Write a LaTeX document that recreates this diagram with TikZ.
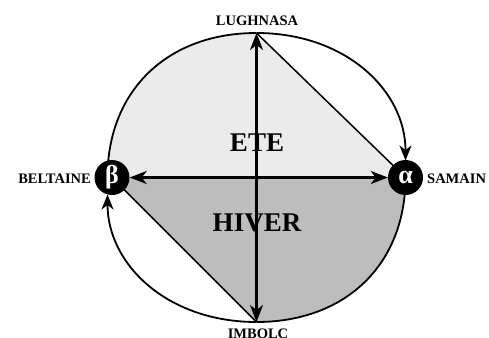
\documentclass[tikz,border=0pt]{standalone}
\usepackage{fontspec}
\setmainfont{Liberation Serif}
\usetikzlibrary{arrows.meta,calc}
\definecolor{etegray}{HTML}{EBEBEB}
\definecolor{hivergray}{HTML}{BDBDBD}
\tikzset{
  season/.style={font=\bfseries\fontsize{27}{27}\selectfont},
  feast/.style={font=\bfseries\fontsize{14.5}{15}\selectfont,inner sep=0pt},
  sabbat/.style={circle,fill=black,minimum size=35pt,inner sep=0pt,text=white,
    font=\bfseries\fontsize{26}{26}\selectfont},
  rim/.style={line width=1.8pt},
  chord/.style={line width=1.5pt},
  axis/.style={line width=2.4pt,{Stealth[length=17pt,width=13pt,inset=5pt]}-{Stealth[length=17pt,width=13pt,inset=5pt]}},
  turn/.style={line width=1.8pt,-{Stealth[length=15pt,width=12pt,inset=4.5pt]},shorten >=17pt}
}

\begin{document}
\begin{tikzpicture}[x=1pt,y=-1pt,line join=round]
  \useasboundingbox (0,0) rectangle (489,337);
  % the four feasts on the rim
  \coordinate (lugh) at (256.5,33);
  \coordinate (imb) at (256.5,322);
  \coordinate (west) at (107.5,177.5);
  \coordinate (b) at (112,177.5);
  \coordinate (a) at (405.5,177.5);

  % summer and winter halves
  \fill[etegray] (west) .. controls (107.5,90.8) and (167.1,33) .. (lugh) -- (a) -- cycle;
  \fill[hivergray] (b) -- (imb) .. controls (345.9,322) and (405.5,264.2) .. (a) -- cycle;

  \draw[rim] (lugh) .. controls (167.1,33) and (107.5,90.8) .. (west);
  \draw[rim] (a) .. controls (405.5,264.2) and (345.9,322) .. (imb);
  \draw[chord] (lugh) -- (a);
  \draw[chord] (b) -- (imb);

  \node[sabbat] (beta) at (b) {β};
  \node[sabbat] (alpha) at (a) {α};

  \draw[turn] (lugh) .. controls (345.9,33) and (405.5,90.8) .. (a);
  \draw[turn] (imb) .. controls (167.1,322) and (107.5,264.2) .. (west);

  \draw[axis] (beta) -- (alpha);
  \draw[axis] (imb) -- (lugh);

  \node[season] (ete) at (257,142.5) {ETE};
  \node[season] (hiver) at (257,222.5) {HIVER};

  \node[feast] (lughlabel) at (257,21) {LUGHNASA};
  \node[feast] (imblabel) at (258,333.5) {IMBOLC};
  \node[feast,anchor=east] (beltlabel) at (91,178.5) {BELTAINE};
  \node[feast,anchor=west] (samlabel) at (427,178.5) {SAMAIN};
\end{tikzpicture}
\end{document}
